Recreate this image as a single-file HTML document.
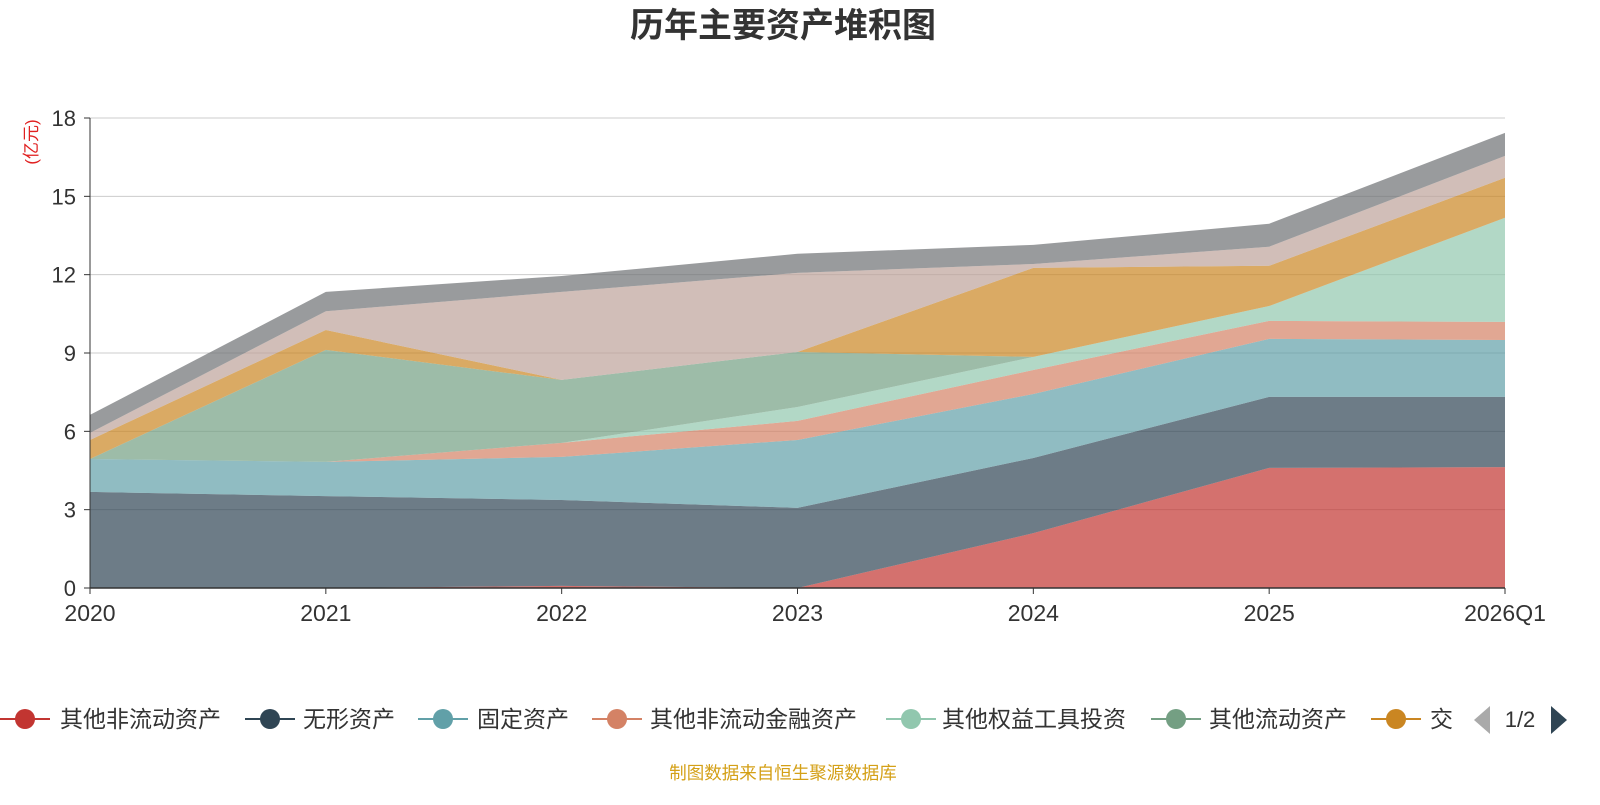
<!DOCTYPE html>
<html><head><meta charset="utf-8"><style>
body{margin:0;background:#fff;font-family:"Liberation Sans","Noto Sans CJK SC",sans-serif;}
svg text{font-family:"Liberation Sans","Noto Sans CJK SC",sans-serif;}
</style></head><body>
<svg id="chart" width="1600" height="800">
<text x="783" y="37" text-anchor="middle" font-size="34" font-weight="bold" fill="#333">历年主要资产堆积图</text>
<text transform="translate(37,142) rotate(-90)" text-anchor="middle" font-size="17" fill="#e02020">(亿元)</text>
<g id="grid"></g><g id="areas"></g><g id="axes"></g><g id="legend"></g>
<text x="783" y="779" text-anchor="middle" font-size="17.5" fill="#d4a017">制图数据来自恒生聚源数据库</text>
</svg>
<script>
const categories=["2020","2021","2022","2023","2024","2025","2026Q1"];
const yTicks=[0,3,6,9,12,15,18];
const seriesNames=["其他非流动资产","无形资产","固定资产","其他非流动金融资产","其他权益工具投资","其他流动资产","交易性金融资产","长期股权投资","货币资金"];
const seriesColors=["#c23531","#2f4554","#61a0a8","#d48265","#91c7ae","#749f83","#ca8622","#bda29a","#6e7074"];
const s1=[0,0,0.08,0,2.1,4.6,4.63];
const s2=[3.68,3.52,3.29,3.07,2.88,2.72,2.69];
const s3=[1.26,1.31,1.65,2.6,2.45,2.22,2.18];
const s4=[0,0,0.54,0.73,0.92,0.69,0.69];
const s5=[0,0,0,0.53,0.5,0.57,3.99];
const s6=[0,4.29,2.41,2.11,0,0,0];
const s7=[0.73,0.76,0,0,3.41,1.54,1.53];
const s8=[0.27,0.72,3.37,3.03,0.15,0.73,0.84];
const s9=[0.69,0.74,0.61,0.73,0.73,0.88,0.88];
const series=[s1,s2,s3,s4,s5,s6,s7,s8,s9];
const NS="http://www.w3.org/2000/svg";
const X0=90,X1=1505,Y0=588,Y1=118,YMAX=18;
const xs=i=>X0+(X1-X0)*i/(categories.length-1);
const ys=v=>Y0-(Y0-Y1)*v/YMAX;
function mk(t,a,p){const e=document.createElementNS(NS,t);for(const k in a)e.setAttribute(k,a[k]);p.appendChild(e);return e;}
const grid=document.getElementById('grid'),areas=document.getElementById('areas'),axes=document.getElementById('axes'),leg=document.getElementById('legend');
yTicks.forEach(t=>{
 if(t>0){const l=mk('line',{x1:X0,x2:X1,y1:ys(t),y2:ys(t),stroke:'#ccc','stroke-width':1},grid);
 
 }
 const tk=mk('line',{x1:X0-6,x2:X0,y1:ys(t),y2:ys(t),stroke:'#333'},axes);
 
 
 const tx=mk('text',{x:X0-14,y:ys(t)+8,'text-anchor':'end','font-size':22,fill:'#333'},axes);
 tx.textContent=t;
 
 
});
let cum=categories.map(()=>0);
series.forEach((s,si)=>{
 const low=cum.slice();const high=cum.map((c,i)=>c+s[i]);
 let d='M'+high.map((v,i)=>xs(i)+','+ys(v)).join('L');
 for(let i=low.length-1;i>=0;i--)d+='L'+xs(i)+','+ys(low[i]);
 d+='Z';
 const p=mk('path',{d:d,fill:seriesColors[si],'fill-opacity':0.7,stroke:'none'},areas);
 
 
 cum=high;
});
const ax=mk('line',{x1:X0,x2:X1,y1:Y0,y2:Y0,stroke:'#333','stroke-width':1.5},axes);


const ay=mk('line',{x1:X0,x2:X0,y1:Y0,y2:Y1,stroke:'#333','stroke-width':1},axes);


categories.forEach((c,i)=>{
 const t=mk('line',{x1:xs(i),x2:xs(i),y1:Y0,y2:Y0+6,stroke:'#333'},axes);
 
 
 const last=i===categories.length-1;
 const tx=mk('text',{x:i===0?X0:(last?X1:xs(i)),y:621,'text-anchor':'middle','font-size':23,fill:'#333'},axes);
 tx.textContent=c;
 
 
});
const legPos=[[25,60],[270,303],[443,477],[617,650],[911,942],[1176,1209],[1396,1430]];
legPos.forEach((p,i)=>{
 const g=mk('g',{},leg);
 
 
 mk('line',{x1:p[0]-25,x2:p[0]+25,y1:719,y2:719,stroke:seriesColors[i],'stroke-width':2},g);
 mk('circle',{cx:p[0],cy:719,r:10,fill:seriesColors[i]},g);
 const t=mk('text',{x:p[1],y:727,'font-size':23,fill:'#333'},g);
 t.textContent=i===6?'交':seriesNames[i];
});
const pl=mk('path',{d:'M1490,706L1490,734L1474,720Z',fill:'#aaa'},leg);


const pt=mk('text',{x:1520,y:727,'text-anchor':'middle','font-size':22,fill:'#333'},leg);
pt.textContent='1/2';


const pn=mk('path',{d:'M1551,706L1551,734L1567,720Z',fill:'#2f4554'},leg);


</script>
</body></html>
